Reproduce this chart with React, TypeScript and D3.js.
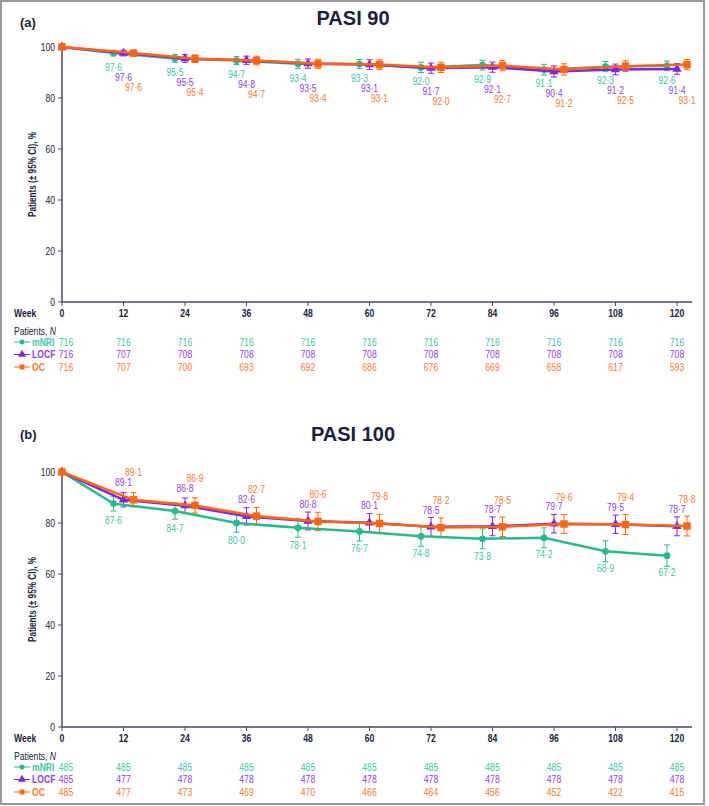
import { useEffect, useRef } from "react";
import * as d3 from "d3";

const weeks = [0, 12, 24, 36, 48, 60, 72, 84, 96, 108, 120];
const seriesNames = ["mNRI", "LOCF", "OC"];

// PASI 90
const pasi90Mnri = [100, 97.6, 95.5, 94.7, 93.4, 93.3, 92.0, 92.9, 91.1, 92.3, 92.6];
const pasi90Locf = [100, 97.6, 95.5, 94.8, 93.5, 93.1, 91.7, 92.1, 90.4, 91.2, 91.4];
const pasi90Oc = [100, 97.6, 95.4, 94.7, 93.4, 93.1, 92.0, 92.7, 91.2, 92.5, 93.1];
// half width of the 95% CI
const pasi90MnriCi = [0, 1.1, 1.5, 1.6, 1.8, 1.8, 2.0, 1.9, 2.1, 2.0, 1.9];
const pasi90LocfCi = [0, 1.1, 1.5, 1.6, 1.8, 1.9, 2.0, 2.0, 2.2, 2.1, 2.1];
const pasi90OcCi = [0, 1.1, 1.5, 1.7, 1.8, 1.9, 2.0, 2.0, 2.2, 2.1, 2.0];
const pasi90MnriN = [716, 716, 716, 716, 716, 716, 716, 716, 716, 716, 716];
const pasi90LocfN = [716, 707, 708, 708, 708, 708, 708, 708, 708, 708, 708];
const pasi90OcN = [716, 707, 700, 693, 692, 686, 676, 669, 658, 617, 593];

// PASI 100
const pasi100Mnri = [100, 87.6, 84.7, 80.0, 78.1, 76.7, 74.8, 73.8, 74.2, 68.9, 67.2];
const pasi100Locf = [100, 89.1, 86.8, 82.6, 80.8, 80.1, 78.5, 78.7, 79.7, 79.5, 78.7];
const pasi100Oc = [100, 89.1, 86.9, 82.7, 80.6, 79.8, 78.2, 78.5, 79.6, 79.4, 78.8];
const pasi100MnriCi = [0, 2.9, 3.2, 3.6, 3.7, 3.8, 3.9, 3.9, 3.9, 4.1, 4.2];
const pasi100LocfCi = [0, 2.8, 3.0, 3.4, 3.5, 3.6, 3.7, 3.7, 3.6, 3.6, 3.7];
const pasi100OcCi = [0, 2.8, 3.0, 3.4, 3.6, 3.6, 3.8, 3.8, 3.7, 3.9, 3.9];
const pasi100MnriN = [485, 485, 485, 485, 485, 485, 485, 485, 485, 485, 485];
const pasi100LocfN = [485, 477, 478, 478, 478, 478, 478, 478, 478, 478, 478];
const pasi100OcN = [485, 477, 473, 469, 470, 466, 464, 456, 452, 422, 415];

const yTicks = [0, 20, 40, 60, 80, 100];

const lineColors = ["#2ab98e", "#8424e0", "#ff6614"];
const textColors = ["#3cc79f", "#9140ee", "#ff7a30"];
const FONT = "'Liberation Sans', Arial, sans-serif";
const INK = "#23233a";
const SQUEEZE = 0.82; // the source uses a condensed face

const fmt = (v: number) => v.toFixed(1).replace(".", "·");

const App = () => {
  const ref = useRef<SVGSVGElement>(null);

  useEffect(() => {
    const svg = d3.select(ref.current);
    svg.selectAll("*").remove();

    svg.append("rect")
      .attr("x", 1).attr("y", 1).attr("width", 703).attr("height", 803)
      .attr("fill", "white").attr("stroke", "#9a9a9a").attr("stroke-width", 2);

    const x = d3.scaleLinear().domain([0, 120]).range([62, 677]);
    const at = (px: number, py: number) => `translate(${px},${py}) scale(${SQUEEZE},1)`;

    const drawPanel = (cfg: any) => {
      const g = svg.append("g").style("font-family", FONT);
      const y = d3.scaleLinear().domain([0, 100]).range([cfg.bottom, cfg.bottom - 255]);
      const y0 = cfg.bottom;

      g.append("text").attr("x", 20).attr("y", cfg.tagY)
        .attr("font-size", 13).attr("font-weight", "bold").attr("fill", INK).text(cfg.tag);
      g.append("text").attr("x", 353).attr("y", cfg.titleY).attr("text-anchor", "middle")
        .attr("font-size", 20).attr("font-weight", "bold").attr("fill", "#1b1f3b").text(cfg.title);

      // y axis
      g.append("line").attr("x1", 62).attr("x2", 62).attr("y1", y(0)).attr("y2", y(100))
        .attr("stroke", "#4a4a5a").attr("stroke-width", 1.5);
      g.selectAll("line.yt").data(yTicks).enter().append("line")
        .attr("x1", 58).attr("x2", 62).attr("y1", (d) => y(d)).attr("y2", (d) => y(d))
        .attr("stroke", "#4a4a5a");
      g.selectAll("text.yt").data(yTicks).enter().append("text")
        .attr("transform", (d) => at(55, y(d))).attr("dy", "0.35em").attr("text-anchor", "end")
        .attr("font-size", 10.5).attr("fill", INK).text((d) => d);

      // x axis
      g.append("line").attr("x1", 62).attr("x2", 692).attr("y1", y0).attr("y2", y0)
        .attr("stroke", "#4a4a5a").attr("stroke-width", 1.5);
      g.selectAll("line.xt").data(weeks).enter().append("line")
        .attr("x1", (d) => x(d)).attr("x2", (d) => x(d)).attr("y1", y0).attr("y2", y0 + 4)
        .attr("stroke", "#4a4a5a");
      g.selectAll("text.xt").data(weeks).enter().append("text")
        .attr("transform", (d) => at(x(d), y0 + 15)).attr("text-anchor", "middle")
        .attr("font-size", 10.5).attr("font-weight", "bold").attr("fill", INK).text((d) => d);
      g.append("text").attr("transform", at(14, y0 + 15))
        .attr("font-size", 10.5).attr("font-weight", "bold").attr("fill", INK).text("Week");

      g.append("text")
        .attr("transform", `translate(36,${y(50)}) rotate(-90) scale(${SQUEEZE},1)`)
        .attr("text-anchor", "middle").attr("font-size", 10).attr("font-weight", "bold")
        .attr("fill", INK).text("Patients (± 95% CI), %");

      const dx = (s: number, i: number) => (i === 0 ? 0 : (s - 1) * 10);

      // error bars
      cfg.values.forEach((vals: number[], s: number) => {
        const ci = cfg.ci[s];
        const eb = g.append("g").attr("stroke", lineColors[s]).attr("stroke-width", 1);
        vals.forEach((v, i) => {
          if (i === 0) return;
          const cx = x(weeks[i]) + dx(s, i);
          eb.append("line").attr("x1", cx).attr("x2", cx).attr("y1", y(v - ci[i])).attr("y2", y(v + ci[i]));
          eb.append("line").attr("x1", cx - 3).attr("x2", cx + 3).attr("y1", y(v - ci[i])).attr("y2", y(v - ci[i]));
          eb.append("line").attr("x1", cx - 3).attr("x2", cx + 3).attr("y1", y(v + ci[i])).attr("y2", y(v + ci[i]));
        });
      });

      // lines and markers
      cfg.values.forEach((vals: number[], s: number) => {
        const line = d3.line<number>()
          .x((v, i) => x(weeks[i]) + dx(s, i))
          .y((v) => y(v));
        g.append("path").datum(vals).attr("d", line).attr("fill", "none")
          .attr("stroke", lineColors[s]).attr("stroke-width", 2.5);
        const sym = [d3.symbolCircle, d3.symbolTriangle, d3.symbolSquare][s];
        const size = [36, 38, 56][s];
        g.selectAll(`path.m${s}`).data(vals).enter().append("path")
          .attr("transform", (v, i) => `translate(${x(weeks[i]) + dx(s, i)},${y(v)})`)
          .attr("d", d3.symbol().type(sym).size(size)())
          .attr("fill", lineColors[s]);
      });

      // value labels
      cfg.values.forEach((vals: number[], s: number) => {
        const base = cfg.labelBase === "first" ? cfg.values[0] : vals;
        g.selectAll(`text.v${s}`).data(vals.slice(1)).enter().append("text")
          .attr("transform", (v, i) => at(x(weeks[i + 1]) + dx(s, i + 1), y(base[i + 1]) + cfg.labelDy[s]))
          .attr("dy", "0.35em").attr("text-anchor", "middle")
          .attr("font-size", 10.5).attr("fill", textColors[s]).text((v) => fmt(v));
      });

      // patient numbers table
      g.append("text").attr("transform", at(14, y0 + 33)).attr("font-size", 10.5).attr("fill", INK)
        .call((t) => {
          t.append("tspan").text("Patients, ");
          t.append("tspan").attr("font-style", "italic").text("N");
        });
      cfg.n.forEach((ns: number[], s: number) => {
        const ry = y0 + 40 + s * 12.5;
        g.append("line").attr("x1", 14).attr("x2", 30).attr("y1", ry).attr("y2", ry)
          .attr("stroke", lineColors[s]).attr("stroke-width", 1);
        const sym = [d3.symbolCircle, d3.symbolTriangle, d3.symbolSquare][s];
        g.append("path").attr("transform", `translate(22,${ry})`)
          .attr("d", d3.symbol().type(sym).size([20, 28, 24][s])()).attr("fill", lineColors[s]);
        g.append("text").attr("transform", at(32, ry)).attr("dy", "0.35em")
          .attr("font-size", 10.5).attr("font-weight", "bold").attr("fill", textColors[s]).text(seriesNames[s]);
        g.selectAll(`text.n${s}`).data(ns).enter().append("text")
          .attr("transform", (d, i) => at(x(weeks[i]) + (i === 0 ? 4 : 0), ry)).attr("dy", "0.35em")
          .attr("text-anchor", "middle").attr("font-size", 10.5).attr("fill", textColors[s]).text((d) => d);
      });
    };

    drawPanel({
      tag: "(a)", title: "PASI 90", tagY: 27, titleY: 25, bottom: 302,
      values: [pasi90Mnri, pasi90Locf, pasi90Oc],
      ci: [pasi90MnriCi, pasi90LocfCi, pasi90OcCi],
      n: [pasi90MnriN, pasi90LocfN, pasi90OcN],
      labelDy: [14, 24, 34], labelBase: "first",
    });
    drawPanel({
      tag: "(b)", title: "PASI 100", tagY: 439, titleY: 441, bottom: 727,
      values: [pasi100Mnri, pasi100Locf, pasi100Oc],
      ci: [pasi100MnriCi, pasi100LocfCi, pasi100OcCi],
      n: [pasi100MnriN, pasi100LocfN, pasi100OcN],
      labelDy: [17, -17, -27], labelBase: "own",
    });
  }, []);

  return (
    <svg ref={ref} width={709} height={806}
      style={{ position: "absolute", left: 0, top: 0, background: "white" }} />
  );
};

export default App;
